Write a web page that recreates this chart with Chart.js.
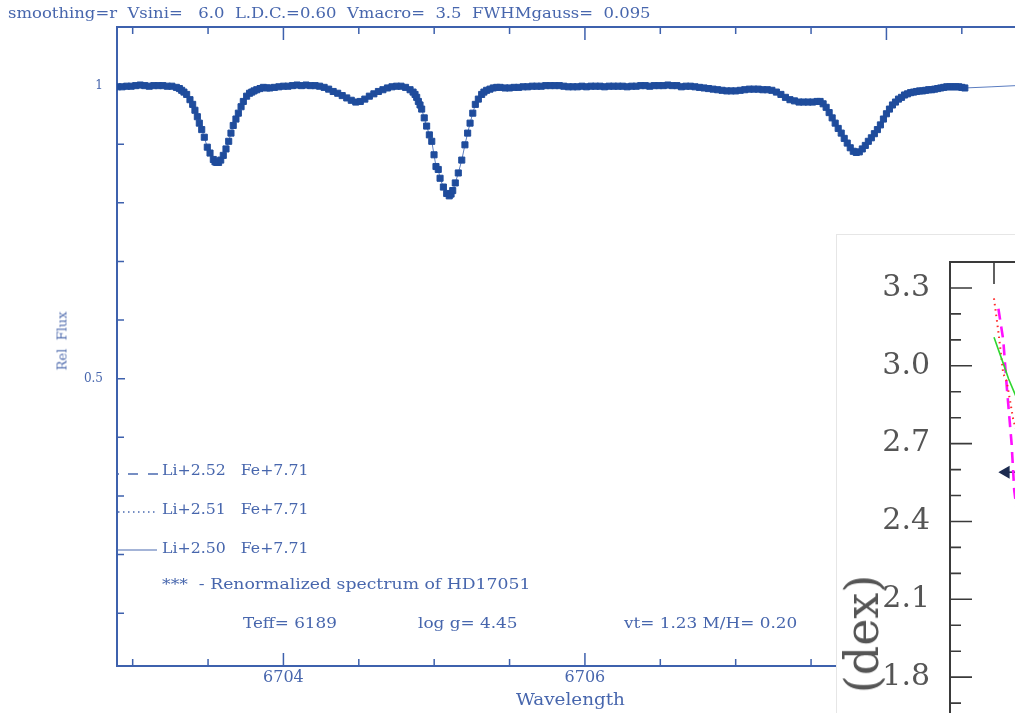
<!DOCTYPE html>
<html>
<head>
<meta charset="utf-8">
<script src="https://cdn.jsdelivr.net/npm/chart.js@4.4.1/dist/chart.umd.min.js"></script>
<style>
  html, body { margin: 0; padding: 0; background: #fff; width: 1015px; height: 713px; overflow: hidden; position: relative; }
  #mainChart { position: absolute; left: 0; top: 0; }
  .txt { position: absolute; white-space: pre; color: #4766ad; font-family: "DejaVu Serif", serif; font-size: 15px; line-height: 1; transform-origin: left center; }
  .sample { position: absolute; left: 115px; width: 46px; height: 6px; overflow: visible; }
  #ylab { left: 62px; top: 341px; font-size: 13px; color: #5570b0; transform-origin: center center; transform: translate(-50%, -50%) rotate(-90deg); }
  #inset { position: absolute; left: 836px; top: 234px; width: 420px; height: 600px; background: #fff; border: 1px solid #e6e6e6; overflow: hidden; }
  #insetChart { position: absolute; left: 0; top: 0; }
  #dex { position: absolute; left: 25px; top: 399px; color: #555; font-family: "DejaVu Serif", serif; font-size: 46px; line-height: 1; white-space: pre; transform: translate(-50%, -50%) rotate(-90deg); }
</style>
</head>
<body>
<canvas id="mainChart" width="1100" height="713"></canvas>

<div class="txt fit" data-w="642" style="left:8px;top:6px">smoothing=r  Vsini=   6.0  L.D.C.=0.60  Vmacro=  3.5  FWHMgauss=  0.095</div>
<div class="txt" id="ylab">Rel  Flux</div>

<svg class="sample" style="top:471px"><line x1="2" y1="3" x2="43" y2="3" stroke="#4a6ab0" stroke-width="1.3" stroke-dasharray="2 9 10 10 10"/></svg>
<svg class="sample" style="top:509px"><line x1="3" y1="3" x2="43" y2="3" stroke="#4a6ab0" stroke-width="1.3" stroke-dasharray="1.5 3.5"/></svg>
<svg class="sample" style="top:547px"><line x1="2" y1="3" x2="42" y2="3" stroke="#4a6ab0" stroke-width="1.2"/></svg>
<div class="txt fit" data-w="146" style="left:162px;top:463px">Li+2.52   Fe+7.71</div>
<div class="txt fit" data-w="146" style="left:162px;top:502px">Li+2.51   Fe+7.71</div>
<div class="txt fit" data-w="146" style="left:162px;top:541px">Li+2.50   Fe+7.71</div>
<div class="txt fit" data-w="368" style="left:162px;top:577px">***  - Renormalized spectrum of HD17051</div>
<div class="txt fit" data-w="94" style="left:243px;top:616px">Teff= 6189</div>
<div class="txt fit" data-w="100" style="left:418px;top:616px">log g= 4.45</div>
<div class="txt fit" data-w="173" style="left:624px;top:616px">vt= 1.23 M/H= 0.20</div>
<div class="txt fit" data-w="109" style="left:516px;top:692px;font-size:16px">Wavelength</div>

<div id="inset">
  <canvas id="insetChart" width="480" height="560"></canvas>
  <div id="dex">(dex)</div>
</div>

<script>
const obsWave = [
  6702.90, 6702.93, 6702.96, 6702.99, 6703.02, 6703.05, 6703.08, 6703.11, 6703.14, 6703.17,
  6703.20, 6703.23, 6703.26, 6703.29, 6703.31, 6703.325, 6703.340, 6703.358, 6703.380, 6703.398,
  6703.413, 6703.429, 6703.442, 6703.458, 6703.475, 6703.495, 6703.513, 6703.535, 6703.546, 6703.557,
  6703.570, 6703.584, 6703.601, 6703.619, 6703.637, 6703.652, 6703.667, 6703.685, 6703.701, 6703.719,
  6703.734, 6703.756, 6703.775, 6703.790, 6703.805, 6703.823, 6703.845, 6703.867, 6703.890, 6703.910,
  6703.94, 6703.97, 6704.00, 6704.03, 6704.06, 6704.09, 6704.12, 6704.15, 6704.18, 6704.21,
  6704.24, 6704.27, 6704.30, 6704.33, 6704.36, 6704.39, 6704.42, 6704.45, 6704.48, 6704.51,
  6704.54, 6704.57, 6704.60, 6704.63, 6704.66, 6704.69, 6704.72, 6704.75, 6704.78, 6704.81,
  6704.84, 6704.86, 6704.873, 6704.884, 6704.895, 6704.906, 6704.917, 6704.934, 6704.950, 6704.968,
  6704.984, 6704.999, 6705.012, 6705.027, 6705.039, 6705.061, 6705.083, 6705.100, 6705.112, 6705.123,
  6705.140, 6705.160, 6705.183, 6705.204, 6705.222, 6705.238, 6705.256, 6705.273, 6705.293, 6705.315,
  6705.330, 6705.348, 6705.370, 6705.392, 6705.415, 6705.437, 6705.47, 6705.50, 6705.53, 6705.56,
  6705.59, 6705.62, 6705.65, 6705.68, 6705.71, 6705.74, 6705.77, 6705.80, 6705.83, 6705.86,
  6705.89, 6705.92, 6705.95, 6705.98, 6706.01, 6706.04, 6706.07, 6706.10, 6706.13, 6706.16,
  6706.19, 6706.22, 6706.25, 6706.28, 6706.31, 6706.34, 6706.37, 6706.40, 6706.43, 6706.46,
  6706.49, 6706.52, 6706.55, 6706.58, 6706.61, 6706.64, 6706.67, 6706.70, 6706.73, 6706.76,
  6706.79, 6706.82, 6706.85, 6706.88, 6706.91, 6706.94, 6706.97, 6707.00, 6707.03, 6707.06,
  6707.09, 6707.12, 6707.15, 6707.18, 6707.21, 6707.24, 6707.27, 6707.30, 6707.33, 6707.36,
  6707.39, 6707.42, 6707.45, 6707.48, 6707.51, 6707.54, 6707.56, 6707.58, 6707.60, 6707.62,
  6707.64, 6707.66, 6707.68, 6707.70, 6707.72, 6707.74, 6707.76, 6707.78, 6707.80, 6707.82,
  6707.84, 6707.86, 6707.88, 6707.90, 6707.92, 6707.94, 6707.96, 6707.98, 6708.00, 6708.02,
  6708.04, 6708.06, 6708.08, 6708.10, 6708.12, 6708.14, 6708.16, 6708.18, 6708.20, 6708.22,
  6708.24, 6708.26, 6708.28, 6708.30, 6708.32, 6708.34, 6708.36, 6708.38, 6708.40, 6708.42,
  6708.44, 6708.46, 6708.48, 6708.50, 6708.52,
];
const obsFlux = [
  0.998, 0.998, 0.999, 0.999, 1.000, 1.001, 1.000, 0.999, 1.000, 1.000,
  1.000, 0.999, 0.999, 0.997, 0.995, 0.992, 0.989, 0.985, 0.976, 0.968,
  0.958, 0.947, 0.936, 0.925, 0.912, 0.895, 0.885, 0.874, 0.870, 0.869,
  0.869, 0.873, 0.881, 0.892, 0.905, 0.919, 0.932, 0.943, 0.953, 0.964,
  0.973, 0.982, 0.987, 0.989, 0.991, 0.993, 0.995, 0.997, 0.996, 0.996,
  0.997, 0.998, 0.999, 0.999, 1.000, 1.001, 1.000, 1.001, 1.000, 1.000,
  0.999, 0.997, 0.994, 0.990, 0.987, 0.983, 0.979, 0.975, 0.972, 0.973,
  0.977, 0.982, 0.986, 0.990, 0.993, 0.996, 0.998, 0.999, 0.999, 0.997,
  0.993, 0.989, 0.985, 0.980, 0.973, 0.967, 0.960, 0.945, 0.931, 0.916,
  0.905, 0.882, 0.862, 0.857, 0.842, 0.827, 0.816, 0.812, 0.815, 0.821,
  0.834, 0.851, 0.873, 0.899, 0.919, 0.936, 0.953, 0.968, 0.977, 0.985,
  0.989, 0.992, 0.994, 0.996, 0.997, 0.997, 0.996, 0.996, 0.997, 0.997,
  0.998, 0.998, 0.999, 0.999, 0.999, 1.000, 1.000, 1.000, 1.000, 0.999,
  0.998, 0.998, 0.998, 0.999, 0.998, 0.999, 0.999, 0.999, 0.998, 0.999,
  0.999, 0.999, 0.999, 0.998, 0.999, 0.999, 1.000, 1.000, 0.999, 1.000,
  1.000, 1.000, 1.001, 1.000, 1.000, 0.998, 0.999, 0.999, 0.998, 0.997,
  0.996, 0.995, 0.994, 0.993, 0.992, 0.991, 0.991, 0.991, 0.992, 0.993,
  0.994, 0.994, 0.994, 0.993, 0.993, 0.992, 0.989, 0.985, 0.980, 0.976,
  0.974, 0.972, 0.972, 0.972, 0.972, 0.973, 0.973, 0.969, 0.963, 0.954,
  0.945, 0.936, 0.927, 0.919, 0.910, 0.902, 0.894, 0.888, 0.886, 0.887,
  0.892, 0.898, 0.905, 0.911, 0.918, 0.925, 0.933, 0.943, 0.952, 0.960,
  0.967, 0.972, 0.977, 0.980, 0.984, 0.986, 0.988, 0.989, 0.990, 0.991,
  0.991, 0.992, 0.993, 0.993, 0.994, 0.995, 0.996, 0.997, 0.998, 0.998,
  0.998, 0.998, 0.998, 0.997, 0.996,
];

// synthetic spectrum continues past the end of the observed data
const synthTailWave = [6708.52, 6708.70, 6708.86, 6709.05, 6709.28];
const synthTailFlux = [0.996, 0.998, 1.000, 1.001, 1.002];

// ---------------- Inset fragment (overlapping panel, right) ----------------
const redX = [1.00, 1.10, 1.21, 1.29, 1.36, 1.44, 1.60];
const redY = [3.26, 3.13, 2.97, 2.94, 2.87, 2.79, 2.70];
const magentaX = [1.10, 1.21, 1.29, 1.40, 1.46, 1.55];
const magentaY = [3.22, 3.10, 2.92, 2.70, 2.52, 2.40];
const greenX = [1.00, 1.25, 1.33, 1.48, 1.60];
const greenY = [3.11, 2.99, 2.95, 2.89, 2.84];
const arrowX = [1.27, 1.60];
const arrowY = [2.59, 2.59];

(() => {
  const $ = (id) => document.getElementById(id);
  const TXT = "#4766ad";
  const AXIS = "#3e61ad";
  const MARK = "#1f4c9c";
  const SERIF = "'DejaVu Serif', serif";

  const zip = (xs, ys) => xs.map((x, i) => ({ x, y: ys[i] }));
  const isMult = (v, step) => Math.abs(v / step - Math.round(v / step)) < 1e-6;

  if (obsWave.length !== obsFlux.length) console.warn("obs length mismatch", obsWave.length, obsFlux.length);

  // fixed axis boxes, no label overhang padding
  const fixBox = (w, h) => (s) => {
    if (w != null) s.width = w;
    if (h != null) s.height = h;
    s.paddingTop = s.paddingBottom = s.paddingLeft = s.paddingRight = 0;
  };

  // ---------------- Frame + inward ticks ----------------
  const innerTicks = {
    id: "innerTicks",
    beforeDatasetsDraw(chart, args, o) {
      const { ctx, chartArea: a } = chart;
      const xs = chart.scales.x, ys = chart.scales.y;
      ctx.save();
      ctx.strokeStyle = o.color;
      ctx.lineWidth = o.frameWidth;
      ctx.strokeRect(a.left, a.top, a.right - a.left, a.bottom - a.top);
      ctx.lineWidth = o.tickWidth;
      ctx.beginPath();
      xs.ticks.forEach((t) => {
        const p = xs.getPixelForValue(t.value);
        if (p <= a.left + 1 || p >= a.right - 1) return;
        const len = isMult(t.value, o.xMajorStep) ? o.major : o.minor;
        ctx.moveTo(p, a.bottom); ctx.lineTo(p, a.bottom - len);
        ctx.moveTo(p, a.top); ctx.lineTo(p, a.top + len);
      });
      ys.ticks.forEach((t) => {
        const p = ys.getPixelForValue(t.value);
        if (p <= a.top + 1 || p >= a.bottom - 1) return;
        const len = isMult(t.value, o.yMajorStep) ? o.yMajor : o.yMinor;
        ctx.moveTo(a.left, p); ctx.lineTo(a.left + len, p);
        ctx.moveTo(a.right, p); ctx.lineTo(a.right - len, p);
      });
      ctx.stroke();
      ctx.restore();
    },
  };

  // ---------------- Main spectrum ----------------
  function renderMain() {
    const obs = zip(obsWave, obsFlux);
    const synth = obs.concat(zip(synthTailWave, synthTailFlux).slice(1));
    new Chart($("mainChart"), {
      type: "scatter",
      data: {
        datasets: [
          {
            label: "Li+2.50 Fe+7.71",
            data: synth,
            showLine: true,
            pointRadius: 0,
            borderWidth: 1,
            borderColor: "#5a7cc0",
            order: 2,
          },
          {
            label: "HD17051",
            data: obs,
            showLine: false,
            pointStyle: "rect",
            pointRadius: 4.3,
            borderWidth: 1,
            backgroundColor: MARK,
            borderColor: MARK,
            order: 1,
          },
        ],
      },
      options: {
        responsive: false,
        animation: false,
        events: [],
        layout: { padding: { top: 27, right: 20, left: 0, bottom: 0 } },
        plugins: {
          legend: { display: false },
          tooltip: { enabled: false },
          innerTicks: { color: AXIS, frameWidth: 2, tickWidth: 1.5, xMajorStep: 2, yMajorStep: 0.5, major: 13, minor: 7, yMajor: 8, yMinor: 7 },
        },
        scales: {
          x: {
            type: "linear",
            min: 6702.896,
            max: 6709.284,
            grid: { display: false, drawTicks: false },
            border: { display: false },
            ticks: {
              stepSize: 0.5,
              includeBounds: false,
              autoSkip: false,
              maxRotation: 0,
              padding: 2,
              color: TXT,
              font: { family: SERIF, size: 16 },
              callback: (v) => (isMult(v, 2) ? String(Math.round(v)) : ""),
            },
            afterFit: fixBox(null, 47),
          },
          y: {
            min: 0.01,
            max: 1.1,
            grid: { display: false, drawTicks: false },
            border: { display: false },
            ticks: {
              stepSize: 0.1,
              includeBounds: false,
              autoSkip: false,
              padding: 14,
              color: TXT,
              font: { family: SERIF, size: 12 },
              callback: (v) => (Math.abs(v - 0.5) < 1e-6 ? "0.5" : Math.abs(v - 1) < 1e-6 ? "1" : ""),
            },
            afterFit: fixBox(117, null),
          },
        },
      },
      plugins: [innerTicks],
    });
  }

  // ---------------- Inset fragment ----------------
  function renderInset() {
    const line = (label, xs, ys, color, dash, width) => ({
      label, data: zip(xs, ys), showLine: true, pointRadius: 0,
      borderColor: color, borderDash: dash, borderWidth: width,
    });
    new Chart($("insetChart"), {
      type: "scatter",
      data: {
        datasets: [
          line("green", greenX, greenY, "#2fd62f", [], 1.6),
          line("red", redX, redY, "#ff2a2a", [1.5, 4], 2),
          line("magenta", magentaX, magentaY, "#ff10ff", [11, 7], 2.6),
          {
            label: "arrow",
            data: zip(arrowX, arrowY),
            showLine: true,
            borderColor: "#1c2b50",
            borderWidth: 1.5,
            backgroundColor: "#1c2b50",
            pointStyle: "triangle",
            rotation: -90,
            pointRadius: [6, 0],
          },
        ],
      },
      options: {
        responsive: false,
        animation: false,
        events: [],
        layout: { padding: { top: 27, right: 15, left: 0, bottom: 0 } },
        plugins: {
          legend: { display: false },
          tooltip: { enabled: false },
          innerTicks: { color: "#3a3a3a", frameWidth: 2, tickWidth: 1.6, xMajorStep: 1, yMajorStep: 0.3, major: 22, minor: 11, yMajor: 22, yMinor: 11 },
        },
        scales: {
          x: {
            type: "linear",
            min: 0,
            max: 8,
            grid: { display: false, drawTicks: false },
            border: { display: false },
            ticks: { stepSize: 1, display: false, autoSkip: false },
            afterFit: fixBox(null, 40),
          },
          y: {
            min: 1.5,
            max: 3.4,
            grid: { display: false, drawTicks: false },
            border: { display: false },
            ticks: {
              stepSize: 0.1,
              includeBounds: false,
              autoSkip: false,
              padding: 20,
              color: "#555",
              font: { family: SERIF, size: 30 },
              callback: (v) => (Math.round(v * 10) % 3 === 0 ? v.toFixed(1) : ""),
            },
            afterFit: fixBox(113, null),
          },
        },
      },
      plugins: [innerTicks],
    });
  }

  // ---------------- Text fitting ----------------
  function fitText() {
    document.querySelectorAll(".fit").forEach((el) => {
      const target = Number(el.dataset.w);
      const w = el.offsetWidth;
      if (w > 0) el.style.transform = `scaleX(${(target / w).toFixed(3)})`;
    });
  }

  renderMain();
  renderInset();
  fitText();
})();
</script>
</body>
</html>
